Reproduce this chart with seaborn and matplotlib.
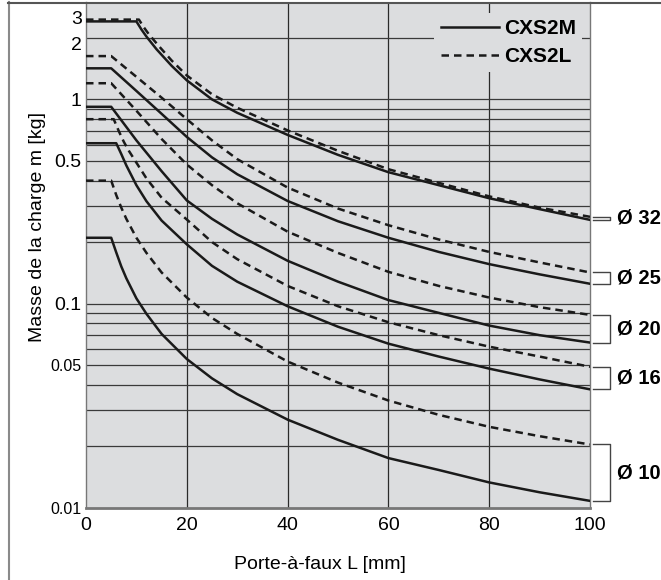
import numpy as np
import pandas as pd
import seaborn as sns
import matplotlib.pyplot as plt
from matplotlib.lines import Line2D
from matplotlib.transforms import ScaledTranslation

L_32M = [0, 10, 11, 12, 14, 17, 20, 25, 30, 40, 50, 60, 70, 80, 90, 100]
m_32M = [2.41, 2.41, 2.2, 2.03, 1.76, 1.46, 1.24, 1.0, 0.86, 0.67, 0.535, 0.44, 0.38, 0.328, 0.29, 0.257]
L_32L = [0, 10.5, 11.5, 12.5, 14.5, 17, 20, 25, 30, 40, 50, 60, 70, 80, 90, 100]
m_32L = [2.46, 2.46, 2.25, 2.08, 1.82, 1.55, 1.31, 1.06, 0.91, 0.705, 0.56, 0.455, 0.39, 0.335, 0.295, 0.266]

L_a = [0, 5, 10, 15, 20, 25, 30, 40, 50, 60, 70, 80, 90, 100]
m_25M = [1.42, 1.42, 1.10, 0.85, 0.655, 0.52, 0.43, 0.318, 0.253, 0.21, 0.179, 0.156, 0.139, 0.125]
m_25L = [1.63, 1.63, 1.29, 1.02, 0.80, 0.63, 0.51, 0.37, 0.292, 0.242, 0.206, 0.179, 0.159, 0.142]
m_20M = [0.92, 0.92, 0.63, 0.445, 0.32, 0.26, 0.218, 0.162, 0.128, 0.104, 0.09, 0.078, 0.07, 0.0644]
m_20L = [1.2, 1.2, 0.88, 0.64, 0.48, 0.38, 0.31, 0.225, 0.177, 0.143, 0.122, 0.107, 0.096, 0.088]

L_5 = [0, 5, 6, 7, 8, 10, 12, 15, 20, 25, 30, 40, 50, 60, 70, 80, 90, 100]
m_10M = [0.21, 0.21, 0.178, 0.152, 0.133, 0.106, 0.089, 0.071, 0.0535, 0.043, 0.036, 0.027, 0.0215, 0.0175, 0.0153, 0.0133, 0.0119, 0.0108]
m_10L = [0.40, 0.40, 0.34, 0.295, 0.26, 0.21, 0.177, 0.142, 0.107, 0.085, 0.071, 0.052, 0.041, 0.0335, 0.0285, 0.0249, 0.0224, 0.0204]

L_16M = [0, 6, 7, 8, 10, 12, 15, 20, 25, 30, 40, 50, 60, 70, 80, 90, 100]
m_16M = [0.61, 0.61, 0.54, 0.475, 0.38, 0.317, 0.255, 0.195, 0.153, 0.128, 0.097, 0.077, 0.0636, 0.055, 0.048, 0.0425, 0.038]
L_16L = [0, 5.5, 6.5, 7.5, 8.5, 10, 12, 15, 20, 25, 30, 40, 50, 60, 70, 80, 90, 100]
m_16L = [0.80, 0.80, 0.70, 0.62, 0.56, 0.49, 0.41, 0.33, 0.258, 0.2, 0.165, 0.122, 0.097, 0.081, 0.07, 0.0615, 0.055, 0.049]

alesages = ['Ø 32', 'Ø 25', 'Ø 20', 'Ø 16', 'Ø 10']
series = {
    ('Ø 32', 'CXS2M'): (L_32M, m_32M), ('Ø 32', 'CXS2L'): (L_32L, m_32L),
    ('Ø 25', 'CXS2M'): (L_a, m_25M), ('Ø 25', 'CXS2L'): (L_a, m_25L),
    ('Ø 20', 'CXS2M'): (L_a, m_20M), ('Ø 20', 'CXS2L'): (L_a, m_20L),
    ('Ø 16', 'CXS2M'): (L_16M, m_16M), ('Ø 16', 'CXS2L'): (L_16L, m_16L),
    ('Ø 10', 'CXS2M'): (L_5, m_10M), ('Ø 10', 'CXS2L'): (L_5, m_10L),
}

rows = []
for (al, mod), (L, m) in series.items():
    for x, y in zip(L, m):
        rows.append({'L': x, 'm': y, 'alesage': al, 'modele': mod})
df = pd.DataFrame(rows)

fond = '#dcdddf'
police = 'Liberation Sans'
plt.rcParams['font.family'] = [police, 'DejaVu Sans']

fig = plt.figure(figsize=(6.61, 5.80), dpi=100)
ax = fig.add_axes([86 / 661, 1 - 507.7 / 580, 504 / 661, 505.7 / 580])
ax.set_facecolor(fond)

sns.lineplot(data=df, x='L', y='m', hue='alesage', style='modele',
             palette=['#1a1a1a'] * 5, dashes={'CXS2M': '', 'CXS2L': (3, 2)},
             estimator=None, legend=False, lw=1.8, ax=ax, zorder=3)

ax.set_yscale('log')
ax.set_xlim(0, 100)
ax.set_ylim(0.01, 3)

# grille : verticales tous les 20 mm, horizontales à chaque 1..9 de décade
for x in [20, 40, 60, 80]:
    ax.axvline(x, color='#2a2a2a', lw=0.9, zorder=1)
for dec in [0.01, 0.1, 1]:
    for k in range(1, 10):
        v = k * dec
        if 0.01 < v < 2.9:
            ax.axhline(v, color='#3a3a3a', lw=0.9, zorder=1)

ax.set_xticks([0, 20, 40, 60, 80, 100])
ax.set_xticklabels(['0', '20', '40', '60', '80', '100'], fontsize=14)
ax.set_yticks([0.01, 0.05, 0.1, 0.5, 1, 2, 3])
ax.set_yticklabels(['0.01', '0.05', '0.1', '0.5', '1', '2', '3'], fontsize=14)
ax.yaxis.set_minor_locator(plt.NullLocator())
ax.tick_params(axis='y', length=0, pad=3)
ax.tick_params(axis='x', length=0, pad=7)
for lbl in ax.get_yticklabels():
    if lbl.get_text() in ('0.01', '0.05'):
        lbl.set_fontsize(11.5)

ax.set_xlabel('Porte-à-faux L [mm]', fontsize=14)
ax.set_ylabel('Masse de la charge m [kg]', fontsize=14)
ax.xaxis.set_label_coords(0.465, -0.095)
ax.yaxis.set_label_coords(-0.079, 0.555)

ax.spines['top'].set_visible(False)
ax.spines['bottom'].set_color('#777777')
ax.spines['bottom'].set_linewidth(2)
for s in ['left', 'right']:
    ax.spines[s].set_color('#777777')
    ax.spines[s].set_linewidth(1)

# légende
poignees = [Line2D([], [], color='#1a1a1a', lw=1.8),
            Line2D([], [], color='#1a1a1a', lw=1.8, dashes=(3, 2))]
leg = ax.legend(poignees, ['CXS2M', 'CXS2L'], loc='upper right',
                bbox_to_anchor=(0.985, 0.978), frameon=True, fancybox=False,
                facecolor=fond, edgecolor='none', framealpha=1,
                handlelength=2.8, handletextpad=0.25, labelspacing=0.42,
                borderpad=0.3, borderaxespad=0,
                prop={'family': police, 'weight': 'bold', 'size': 15})
leg.set_zorder(4)

# accolades et repères d'alésage à droite
for al in alesages:
    haut = series[(al, 'CXS2L')][1][-1]
    bas = series[(al, 'CXS2M')][1][-1]
    ax.plot([100.6, 104, 104, 100.6], [haut, haut, bas, bas], color='#444444',
            lw=1, clip_on=False, zorder=3)
    ax.text(105.4, np.sqrt(haut * bas), al, fontsize=14.5, fontweight='bold',
            va='center', ha='left', clip_on=False)

# cadre de la page
fig.add_artist(Line2D([8.5 / 661, 8.5 / 661], [0, 1 - 2 / 580], color='#8a8a8a', lw=1.5))
fig.add_artist(Line2D([8 / 661, 1], [1 - 2.5 / 580, 1 - 2.5 / 580], color='#555555', lw=1.5))

fig.canvas.draw()
for lbl in ax.get_yticklabels():
    if lbl.get_text() == '3':
        lbl.set_transform(lbl.get_transform() + ScaledTranslation(0, -11 / 72, fig.dpi_scale_trans))
    if lbl.get_text() == '2':
        lbl.set_transform(lbl.get_transform() + ScaledTranslation(0, -4 / 72, fig.dpi_scale_trans))

fig.savefig('out.png', dpi=100)
